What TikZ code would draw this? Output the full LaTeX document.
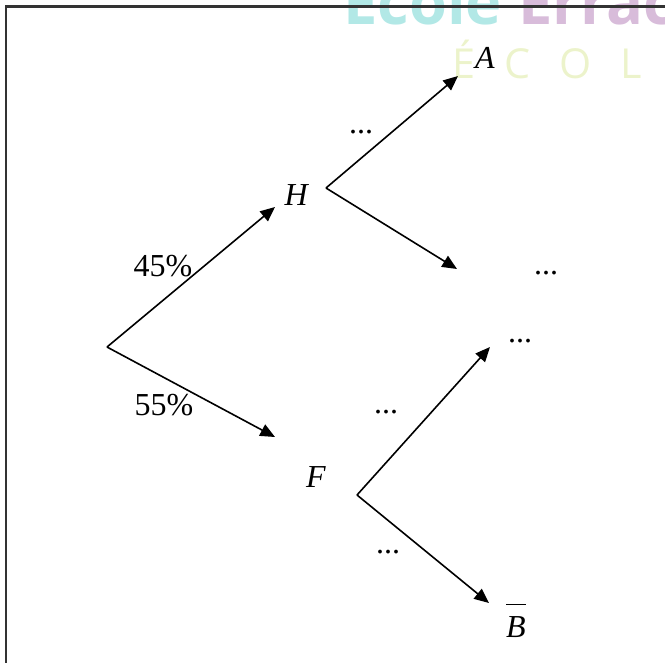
\documentclass[tikz,border=0pt]{standalone}
\usepackage{fontspec}
\setmainfont{Liberation Serif}
\newfontfamily\wmfont{Open Sans}
\usetikzlibrary{arrows.meta}
\definecolor{wmteal}{RGB}{178,232,230}
\definecolor{wmpurple}{RGB}{216,188,218}
\definecolor{wmgreen}{RGB}{236,243,203}

\begin{document}
\begin{tikzpicture}[
    x=0.75pt, y=-0.75pt,
    font=\fontsize{24}{28}\selectfont,
    branch/.style={line width=1.2pt, -{Triangle[length=11pt,width=9.5pt]}},
    dots/.style={inner sep=0pt, anchor=base}
]
    \useasboundingbox (0,0) rectangle (665,662);
    \clip (0,0) rectangle (665,662);

    % Watermark
    \node[anchor=base west, inner sep=0pt, font=\wmfont\bfseries\fontsize{46}{50}\selectfont]
        (wmtop) at (343,24) {\textcolor{wmteal}{École}\ \textcolor{wmpurple}{Errach}};
    \node[anchor=base west, inner sep=0pt, text=wmgreen, font=\wmfont\fontsize{31}{34}\selectfont]
        (wmsub) at (452,78) {É\hspace{0.7em}C\hspace{0.7em}O\hspace{0.7em}L\hspace{0.7em}E};

    % Frame
    \draw[line width=1.6pt, black!80] (6,700) |- (700,6.5);

    % Coordinates
    \coordinate (root)    at (107,347);
    \coordinate (hTip)    at (275,207);
    \coordinate (fTip)    at (275,437);
    \coordinate (hFork)   at (326,188);
    \coordinate (fFork)   at (357,495);
    \coordinate (aTip)    at (458,76);
    \coordinate (abarTip) at (457,269);
    \coordinate (bTip)    at (490,347);
    \coordinate (bbarTip) at (489,603);

    % First level
    \draw[branch] (root) -- (hTip);
    \draw[branch] (root) -- (fTip);

    % Second level
    \draw[branch] (hFork) -- (aTip);
    \draw[branch] (hFork) -- (abarTip);
    \draw[branch] (fFork) -- (bTip);
    \draw[branch] (fFork) -- (bbarTip);

    % Events
    \node (H)    at (297,195) {\textit{H}};
    \node (F)    at (316,477) {\textit{F}};
    \node (A)    at (485,58)  {\textit{A}};
    \node[anchor=base, inner sep=0pt] (Bbar) at (516,637)
        {$\overline{\mbox{\itshape B}\rule{0pt}{0.95em}}$};

    % Probabilities
    \node (pH) at (163,266) {45\%};
    \node (pF) at (164,405) {55\%};
    \node[dots] (pAH)    at (361,133) {...};
    \node[dots] (pAbarH) at (546,274) {...};
    \node[dots] (pBF)    at (520,342) {...};
    \node[dots] (pBFup)  at (386,413) {...};
    \node[dots] (pBbarF) at (388,553) {...};

\end{tikzpicture}
\end{document}
